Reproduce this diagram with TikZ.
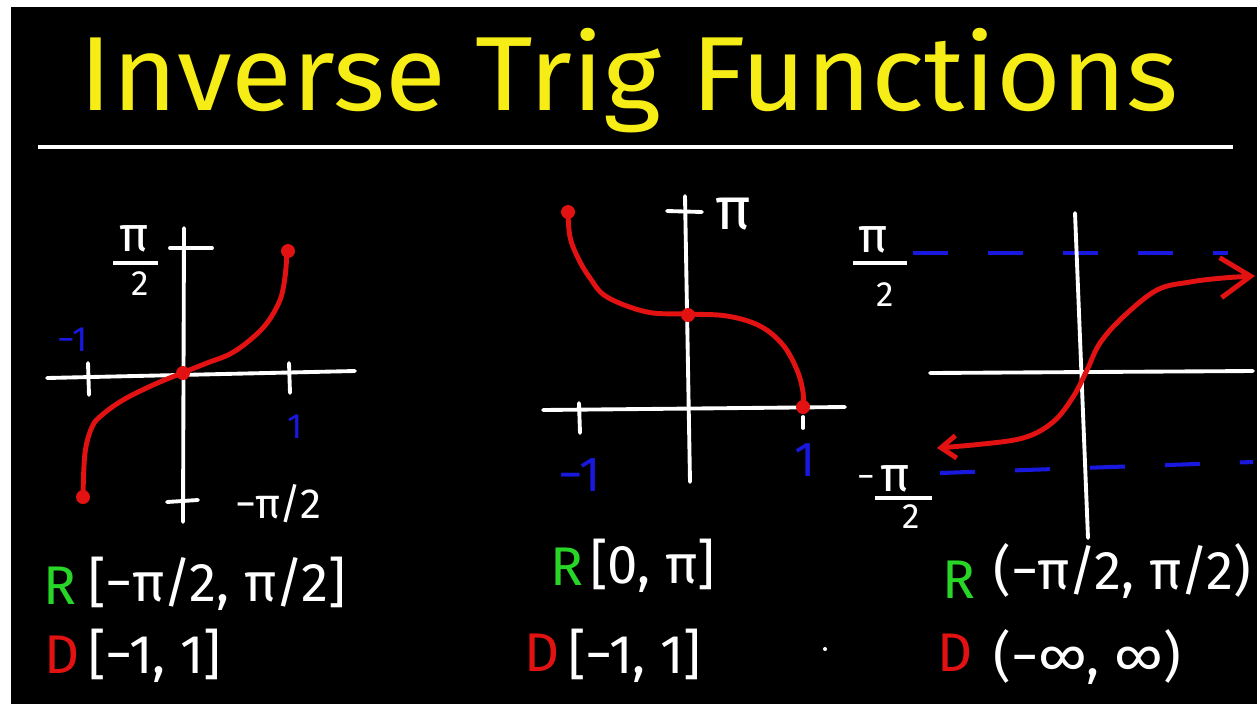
\documentclass[tikz,border=0pt]{standalone}
\usepackage{fontspec}
\setmainfont{Fira Sans}
\usetikzlibrary{arrows.meta}
\definecolor{titleyellow}{RGB}{246,236,22}
\definecolor{curvered}{RGB}{226,18,18}
\definecolor{rgreen}{RGB}{40,214,40}
\definecolor{lblue}{RGB}{24,24,222}
\begin{document}
\begin{tikzpicture}[x=0.02cm, y=-0.02cm,
  axis/.style={white, line width=2.2pt, line cap=round},
  curve/.style={curvered, line width=2.8pt, line cap=round},
  dot/.style={circle, fill=curvered, inner sep=0pt, minimum size=0.28cm},
  asym/.style={lblue, line width=2.3pt, dash pattern=on 0.7cm off 0.8cm},
  lbl/.style={text=white, inner sep=0pt, font=\fontsize{28}{28}\selectfont},
  blu/.style={text=lblue, inner sep=0pt, font=\fontsize{28}{28}\selectfont},
  big/.style={text=white, inner sep=0pt, anchor=west, font=\fontsize{31}{31}\selectfont},
]
  \useasboundingbox (0,0) rectangle (1257,704);
  \fill[white] (0,0) rectangle (1257,704);
  \fill[black] (11,7) rectangle (1257,704);

  % title
  \node[anchor=base, text=titleyellow, inner sep=0pt] (title) at (629,110)
    {\scalebox{1.055}[1]{\fontsize{60}{60}\selectfont Inverse Trig Functions}};
  \draw[white, line width=2.2pt] (38,147) -- (1233,147);

  % arcsin (left)
  \draw[axis] (47,378) -- (355,371);
  \draw[axis] (184,228) -- (183,522);
  \draw[axis] (170,248) -- (212,248);
  \draw[axis] (167,502) -- (198,500);
  \draw[axis] (88,363) -- (89,395);
  \draw[axis] (289,363) -- (290,393);
  \draw[curve] plot[smooth, tension=0.6] coordinates {(83,497) (85,453) (92,427)
    (102,415) (123,400) (153,385) (182,373) (207,363) (230,354) (250,340)
    (267,323) (280,300) (285,277) (287,252)};
  \node[dot] (s1) at (83,497) {};
  \node[dot] (s2) at (183,373) {};
  \node[dot] (s3) at (288,251) {};
  \node[lbl] (pa) at (134,239) {π};
  \draw[white, line width=2pt] (113,263) -- (158,263);
  \node[lbl, font=\fontsize{20}{20}\selectfont] (ta) at (140,284) {2};
  \node[blu, font=\fontsize{20}{20}\selectfont] (ma) at (73,340) {−1};
  \node[blu, font=\fontsize{20}{20}\selectfont] (oa) at (295,427) {1};
  \node[lbl, font=\fontsize{24}{24}\selectfont] (na) at (278,504) {−π/2};

  % arccos (middle)
  \draw[axis] (543,410) -- (845,407);
  \draw[axis] (685,196) -- (690,482);
  \draw[axis] (667,211) -- (702,212);
  \draw[axis] (579,403) -- (580,433);
  \draw[axis] (803,417) -- (803,428);
  \draw[curve] plot[smooth, tension=0.6] coordinates {(568,212) (570,237)
    (578,258) (590,278) (607,297) (647,312) (687,314) (727,316) (760,326)
    (783,345) (797,370) (803,392) (803,407)};
  \node[dot] (c1) at (568,212) {};
  \node[dot] (c2) at (688,315) {};
  \node[dot] (c3) at (803,407) {};
  \node[lbl, font=\fontsize{34}{34}\selectfont] (pb) at (733,214) {π};
  \node[blu] (mb) at (580,475) {−1};
  \node[blu] (ob) at (805,460) {1};

  % arctan (right)
  \draw[asym] (913,253) -- (1228,253);
  \draw[asym] (940,473) -- (1253,462);
  \draw[axis] (1075,213) -- (1088,538);
  \draw[axis] (930,373) -- (1253,371);
  \draw[curve, {Straight Barb[length=0.3cm,width=0.45cm]}-{Straight Barb[length=0.6cm,width=0.8cm]}]
    plot[smooth, tension=0.6] coordinates {(937,448) (973,445) (1023,438)
    (1053,422) (1073,397) (1087,370) (1100,343) (1123,317) (1157,290)
    (1190,282) (1223,278) (1255,276)};
  \node[lbl] (pc) at (873,240) {π};
  \draw[white, line width=2pt] (853,263) -- (907,263);
  \node[lbl, font=\fontsize{20}{20}\selectfont] (tc) at (885,295) {2};
  \node[lbl, font=\fontsize{20}{20}\selectfont] (mc) at (866,482) {−};
  \node[lbl] (pd) at (895,479) {π};
  \draw[white, line width=2pt] (875,498) -- (932,498);
  \node[lbl, font=\fontsize{20}{20}\selectfont] (td) at (911,517) {2};

  % range and domain
  \node[big, text=rgreen, anchor=center] (r1) at (60,586) {R};
  \node[big] (r1v) at (88,584) {[−π/2, π/2]};
  \node[big, text=curvered, anchor=center] (d1) at (62,655) {D};
  \node[big] (d1v) at (88,656) {[−1, 1]};

  \node[big, text=rgreen, anchor=center] (r2) at (567,567) {R};
  \node[big] (r2v) at (590,566) {[0, π]};
  \node[big, text=curvered, anchor=center] (d2) at (542,653) {D};
  \node[big] (d2v) at (568,656) {[−1, 1]};
  \fill[white] (825,649) circle (2);

  \node[big, text=rgreen, anchor=center] (r3) at (959,580) {R};
  \node[big] (r3v) at (993,571) {(−π/2, π/2)};
  \node[big, text=curvered, anchor=center] (d3) at (955,653) {D};
  \node[big] (d3v) at (993,657) {(−∞, ∞)};
\end{tikzpicture}
\end{document}
